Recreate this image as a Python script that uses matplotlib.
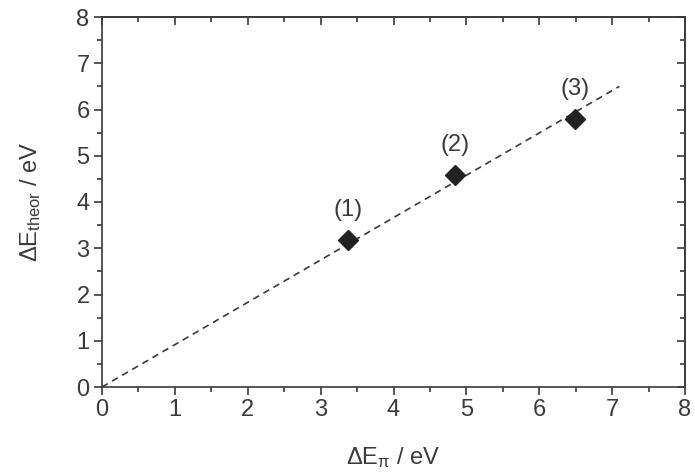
import numpy as np
import matplotlib.pyplot as plt
from matplotlib.ticker import MultipleLocator

plt.rcParams['font.family'] = ['Liberation Sans', 'DejaVu Sans']
plt.rcParams['mathtext.fontset'] = 'custom'
plt.rcParams['mathtext.rm'] = 'Liberation Sans'

# data
labels = ['(1)', '(2)', '(3)']
de_pi = [3.38, 4.85, 6.49]
de_theor = [3.18, 4.59, 5.80]
fit_x = [0.0, 7.1]
fit_y = [0.0, 6.5]

ink = '#3a3a3a'
fs = 17

fig = plt.figure(figsize=(6.95, 4.72), dpi=100)
ax = fig.add_axes([102 / 695, 1 - 387 / 472, 583 / 695, 370 / 472])

ax.plot(fit_x, fit_y, ls=(0, (4, 3)), color=ink, lw=1.2)
ax.plot(de_pi, de_theor, ls='none', marker='D', ms=10, color='#222222')
for lab, x, y in zip(labels, de_pi, de_theor):
    ax.text(x, y + 0.4, lab, ha='center', va='bottom', fontsize=fs, color=ink)

ax.set_xlim(0, 8)
ax.set_ylim(0, 8)
ax.xaxis.set_major_locator(MultipleLocator(1))
ax.xaxis.set_minor_locator(MultipleLocator(0.5))
ax.yaxis.set_major_locator(MultipleLocator(1))
ax.yaxis.set_minor_locator(MultipleLocator(0.5))

for s in ax.spines.values():
    s.set_color(ink)
    s.set_linewidth(1.2)

ax.tick_params(which='both', direction='out', colors=ink, labelsize=fs, width=1.2, pad=3)
ax.tick_params(which='major', length=6)
ax.tick_params(which='minor', length=3.5)

# mirrored ticks pointing inward on top and right
top = ax.secondary_xaxis('top')
top.xaxis.set_major_locator(MultipleLocator(1))
top.xaxis.set_minor_locator(MultipleLocator(0.5))
top.tick_params(which='both', direction='in', labeltop=False, colors=ink, width=1.2)
top.tick_params(which='major', length=6)
top.tick_params(which='minor', length=3.5)
right = ax.secondary_yaxis('right')
right.yaxis.set_major_locator(MultipleLocator(1))
right.yaxis.set_minor_locator(MultipleLocator(0.5))
right.tick_params(which='both', direction='in', labelright=False, colors=ink, width=1.2)
right.tick_params(which='major', length=6)
right.tick_params(which='minor', length=3.5)
for sec in (top, right):
    for s in sec.spines.values():
        s.set_color(ink)
        s.set_linewidth(1.2)

ax.set_xlabel(r'$\mathregular{\Delta E_{π}}$ / eV', fontsize=fs, color=ink, labelpad=17)
ax.set_ylabel(r'$\mathregular{\Delta E_{theor}}$ / eV', fontsize=fs, color=ink, labelpad=24)

fig.savefig('out.png', dpi=100)
